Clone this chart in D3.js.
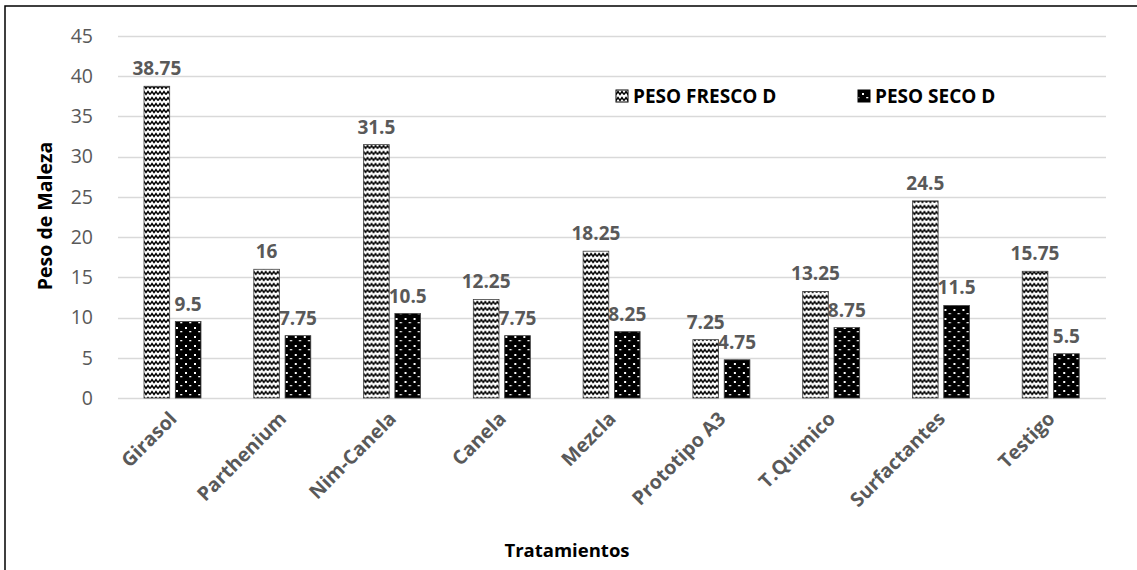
<!DOCTYPE html>
<html>
<head>
<meta charset="utf-8">
<script src="https://cdn.jsdelivr.net/npm/d3@7"></script>
<style>
  html, body { margin: 0; padding: 0; background: #fff; }
  svg { display: block; }
  svg text { font-family: "Open Sans", sans-serif; }
</style>
</head>
<body>
<svg id="chart" width="1137" height="570"></svg>
<script>
// Tratamientos y pesos de maleza
const categories = ["Girasol", "Parthenium", "Nim-Canela", "Canela", "Mezcla", "Prototipo A3", "T.Quimico", "Surfactantes", "Testigo"];
const seriesNames = ["PESO FRESCO D", "PESO SECO D"];
const pesoFresco = [38.75, 16, 31.5, 12.25, 18.25, 7.25, 13.25, 24.5, 15.75];
const pesoSeco = [9.5, 7.75, 10.5, 7.75, 8.25, 4.75, 8.75, 11.5, 5.5];
const yTicks = [0, 5, 10, 15, 20, 25, 30, 35, 40, 45];

const svg = d3.select("#chart");
const W = 1137, H = 570;
const plot = { left: 118, right: 1106, top: 36, bottom: 398 };
const FONT = "'Open Sans', sans-serif";

svg.append("rect").attr("width", W).attr("height", H).attr("fill", "#fff");

// fill patterns
const defs = svg.append("defs");
const wave = defs.append("pattern").attr("id", "pat-wave").attr("patternUnits", "userSpaceOnUse")
  .attr("width", 8).attr("height", 6);
wave.append("rect").attr("width", 8).attr("height", 6).attr("fill", "#fff");
wave.append("path").attr("d", "M0,4.5 L2,1.5 L4,4.5 L6,1.5 L8,4.5").attr("fill", "none")
  .attr("stroke", "#000").attr("stroke-width", 1.5);

const dots = defs.append("pattern").attr("id", "pat-dots").attr("patternUnits", "userSpaceOnUse")
  .attr("width", 9).attr("height", 9);
dots.append("rect").attr("width", 9).attr("height", 9).attr("fill", "#000");
dots.append("rect").attr("x", 4).attr("y", 3).attr("width", 2).attr("height", 2).attr("fill", "#fff");
dots.append("rect").attr("x", 0).attr("y", 7).attr("width", 1.3).attr("height", 1.3).attr("fill", "#fff");
dots.append("rect").attr("x", 8.2).attr("y", 7).attr("width", 0.8).attr("height", 1.3).attr("fill", "#fff");

const fills = ["url(#pat-wave)", "url(#pat-dots)"];

// scales
const x0 = d3.scaleBand().domain(categories).range([plot.left, plot.right]).padding(0);
const x1 = d3.scaleBand().domain(seriesNames).range([26, 83]).paddingInner(0.18);
const y = d3.scaleLinear().domain([0, 45]).range([plot.bottom, plot.top]);

// gridlines
svg.append("g").selectAll("line").data(yTicks).join("line")
  .attr("x1", plot.left).attr("x2", plot.right)
  .attr("y1", d => Math.round(y(d)) + 0.5).attr("y2", d => Math.round(y(d)) + 0.5)
  .attr("stroke", "#d9d9d9").attr("stroke-width", 1.5);

// y axis labels
const yAxis = d3.axisLeft(y).tickValues(yTicks).tickSize(0).tickPadding(0);
const gy = svg.append("g").attr("transform", `translate(${plot.left - 25},0)`).call(yAxis);
gy.attr("font-family", FONT);
gy.select(".domain").remove();
gy.selectAll("text").attr("font-size", 19.5).attr("fill", "#595959").attr("font-family", FONT);

const data = categories.map((c, i) => ({ cat: c, vals: [pesoFresco[i], pesoSeco[i]] }));
const valueFmt = v => String(v);
const LABEL_SIZE = 19;

// labels of the dry series sit beneath the bars
const groups = svg.append("g").selectAll("g").data(data).join("g")
  .attr("transform", d => `translate(${x0(d.cat)},0)`);

groups.append("text")
  .attr("x", x1(seriesNames[1]) + x1.bandwidth() / 2)
  .attr("y", d => y(d.vals[1]) - 11)
  .attr("text-anchor", "middle").attr("font-size", LABEL_SIZE).attr("font-weight", "bold")
  .attr("fill", "#595959").text(d => valueFmt(d.vals[1]));

groups.selectAll("rect").data(d => d.vals.map((v, k) => ({ v, k }))).join("rect")
  .attr("x", d => x1(seriesNames[d.k]))
  .attr("y", d => y(d.v))
  .attr("width", x1.bandwidth())
  .attr("height", d => y(0) - y(d.v))
  .attr("fill", d => fills[d.k])
  .attr("stroke", "#404040").attr("stroke-width", 0.8);

groups.append("text")
  .attr("x", x1(seriesNames[0]) + x1.bandwidth() / 2)
  .attr("y", d => y(d.vals[0]) - 11)
  .attr("text-anchor", "middle").attr("font-size", LABEL_SIZE).attr("font-weight", "bold")
  .attr("fill", "#595959").text(d => valueFmt(d.vals[0]));

// category axis
const xAxis = d3.axisBottom(x0).tickSize(0).tickPadding(0);
const gx = svg.append("g").attr("transform", `translate(0,${plot.bottom})`).call(xAxis);
gx.attr("font-family", FONT);
gx.select(".domain").remove();
gx.selectAll("text")
  .attr("font-size", 19.5).attr("font-weight", "bold").attr("fill", "#595959").attr("font-family", FONT)
  .attr("text-anchor", "end").attr("dy", 0)
  .attr("transform", "translate(5,22) rotate(-45)");

// axis titles
svg.append("text").attr("x", 567).attr("y", 557).attr("text-anchor", "middle")
  .attr("font-size", 18.5).attr("font-weight", "bold").attr("fill", "#000").text("Tratamientos");
svg.append("text").attr("transform", "translate(52,216) rotate(-90)").attr("text-anchor", "middle")
  .attr("font-size", 19.5).attr("font-weight", "bold").attr("fill", "#000").text("Peso de Maleza");

// legend
const legendX = [616, 858];
const leg = svg.append("g").selectAll("g").data(seriesNames).join("g")
  .attr("transform", (d, i) => `translate(${legendX[i]},90)`);
leg.append("rect").attr("width", 12).attr("height", 12)
  .attr("fill", (d, i) => fills[i]).attr("stroke", "#000").attr("stroke-width", 1);
leg.append("text").attr("x", 17).attr("y", 13).attr("font-size", 19).attr("font-weight", "bold")
  .attr("fill", "#000").text(d => d);

// chart frame
svg.append("rect").attr("x", 5).attr("y", 6).attr("width", W + 10).attr("height", H + 10)
  .attr("fill", "none").attr("stroke", "#000").attr("stroke-width", 1.5);
</script>
</body>
</html>
